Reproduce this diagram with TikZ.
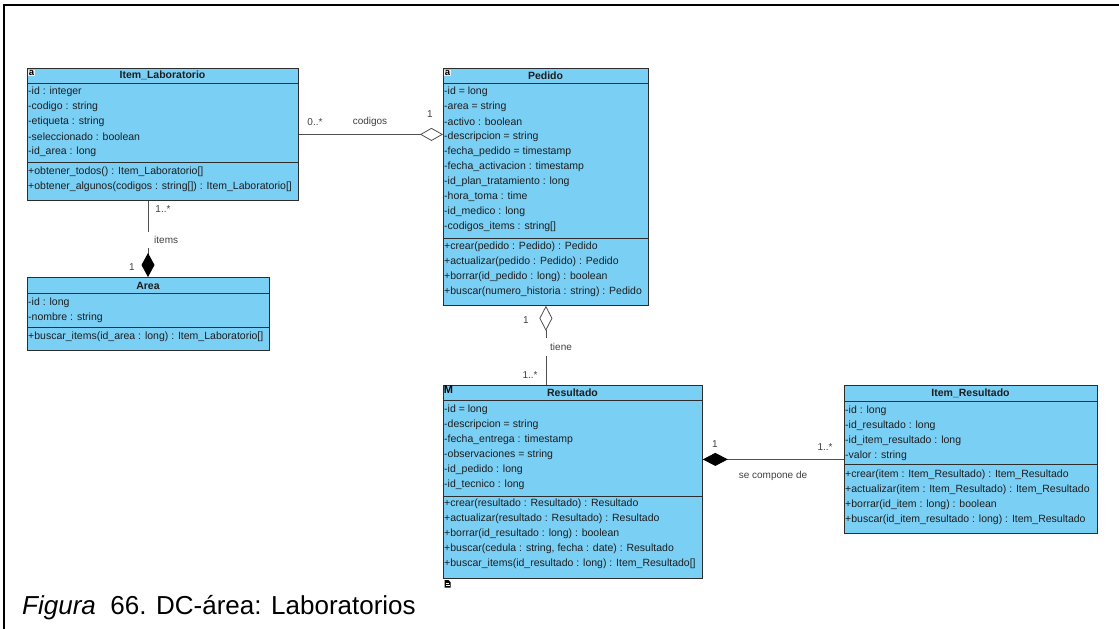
\documentclass[tikz,border=0pt]{standalone}
\usepackage{fontspec}
\setmainfont{Liberation Sans}
\usepackage{xcolor}
\usetikzlibrary{arrows.meta, positioning}
\definecolor{classfill}{RGB}{122,207,245}
\definecolor{classedge}{RGB}{45,45,45}
\definecolor{linkgray}{RGB}{80,80,80}
\definecolor{textdark}{RGB}{30,30,30}

\begin{document}
\begin{tikzpicture}[x=1pt, y=-1pt,
    classbox/.style={draw=classedge, fill=classfill, line width=0.8pt, anchor=north west, inner sep=0},
    classline/.style={draw=classedge, line width=0.8pt},
    classname/.style={font=\fontsize{10.5}{12}\selectfont\bfseries, text=textdark, inner sep=0},
    rowtext/.style={font=\fontsize{10.5}{12}\selectfont, text=textdark, anchor=west, inner sep=0},
    link/.style={draw=linkgray, line width=0.8pt},
    linklabel/.style={font=\fontsize{10}{12}\selectfont, text=textdark!85, inner sep=0},
    icon/.style={font=\fontsize{9.5}{10}\selectfont\bfseries, inner sep=0.5pt}]
  \useasboundingbox (0,0) rectangle (1119,629);
  % frame
  \draw[line width=2pt] (4,629) -- (4,5) -- (1119,5);

  % Item_Laboratorio
  \node[classbox, minimum width=271pt, minimum height=132pt] (itemlab) at (27,68) {};
  \node[classname] (itemlab-name) at (162.5,75.5) {Item\_Laboratorio};
  \node[icon, fill=gray!12] (itemlab-icon) at (31.5,73) {a};
  \draw[classline] (27,83) -- (298,83);
  \draw[classline] (27,162) -- (298,162);
  \foreach [count=\i] \t in {-id : integer, -codigo : string, -etiqueta : string,
      -seleccionado : boolean, -id\_area : long}
    \node[rowtext] (itemlab-a\i) at (28,{77+15*\i}) {\t};
  \foreach [count=\i] \t in {+obtener\_todos() : Item\_Laboratorio[],
      +obtener\_algunos(codigos : string[]) : Item\_Laboratorio[]}
    \node[rowtext] (itemlab-m\i) at (28,{157+15*\i}) {\t};

  % Pedido
  \node[classbox, minimum width=205pt, minimum height=237pt] (pedido) at (443,68) {};
  \node[classname] (pedido-name) at (545.5,75.5) {Pedido};
  \node[icon, fill=gray!12] (pedido-icon) at (447.5,73) {a};
  \draw[classline] (443,83) -- (648,83);
  \draw[classline] (443,238) -- (648,238);
  \foreach [count=\i] \t in {-id = long, -area = string, -activo : boolean,
      -descripcion = string, -fecha\_pedido = timestamp, -fecha\_activacion : timestamp,
      -id\_plan\_tratamiento : long, -hora\_toma : time, -id\_medico : long,
      -codigos\_items : string[]}
    \node[rowtext] (pedido-a\i) at (444,{77+15*\i}) {\t};
  \foreach [count=\i] \t in {+crear(pedido : Pedido) : Pedido,
      +actualizar(pedido : Pedido) : Pedido, +borrar(id\_pedido : long) : boolean,
      +buscar(numero\_historia : string) : Pedido}
    \node[rowtext] (pedido-m\i) at (444,{232+15*\i}) {\t};

  % Area
  \node[classbox, minimum width=242pt, minimum height=73pt] (area) at (27,277) {};
  \node[classname] (area-name) at (148,286) {Area};
  \draw[classline] (27,293) -- (269,293);
  \draw[classline] (27,327) -- (269,327);
  \foreach [count=\i] \t in {-id : long, -nombre : string}
    \node[rowtext] (area-a\i) at (28,{288+15*\i}) {\t};
  \node[rowtext] (area-m1) at (28,337) {+buscar\_items(id\_area : long) : Item\_Laboratorio[]};

  % Resultado
  \node[classbox, minimum width=259pt, minimum height=193pt] (resultado) at (443,385) {};
  \node[classname] (resultado-name) at (572.5,393) {Resultado};
  \node[icon, font=\fontsize{11}{12}\selectfont\bfseries, inner sep=0] (resultado-icon) at (448.5,390) {M};
  \draw[classline] (443,400) -- (702,400);
  \draw[classline] (443,496) -- (702,496);
  \foreach [count=\i] \t in {-id = long, -descripcion = string,
      -fecha\_entrega : timestamp, -observaciones = string, -id\_pedido : long,
      -id\_tecnico : long}
    \node[rowtext] (resultado-a\i) at (444,{395+15*\i}) {\t};
  \foreach [count=\i] \t in {+crear(resultado : Resultado) : Resultado,
      +actualizar(resultado : Resultado) : Resultado,
      +borrar(id\_resultado : long) : boolean,
      {+buscar(cedula : string, fecha : date) : Resultado},
      +buscar\_items(id\_resultado : long) : Item\_Resultado[]}
    \node[rowtext] (resultado-m\i) at (444,{489+15*\i}) {\t};
  % small note glyph under Resultado
  \fill[black] (444.5,580) -- (448.5,580) -- (450.5,582) -- (450.5,587.5) -- (444.5,587.5) -- cycle;
  \draw[white, line width=0.6pt] (445.5,583.5) -- (448.5,583.5) (445.5,585.5) -- (449.5,585.5);

  % Item_Resultado
  \node[classbox, minimum width=253pt, minimum height=148pt] (itemres) at (844,385) {};
  \node[classname] (itemres-name) at (970.5,393) {Item\_Resultado};
  \draw[classline] (844,401) -- (1097,401);
  \draw[classline] (844,464) -- (1097,464);
  \foreach [count=\i] \t in {-id : long, -id\_resultado : long,
      -id\_item\_resultado : long, -valor : string}
    \node[rowtext] (itemres-a\i) at (845,{396+15*\i}) {\t};
  \foreach [count=\i] \t in {+crear(item : Item\_Resultado) : Item\_Resultado,
      +actualizar(item : Item\_Resultado) : Item\_Resultado,
      +borrar(id\_item : long) : boolean,
      +buscar(id\_item\_resultado : long) : Item\_Resultado}
    \node[rowtext] (itemres-m\i) at (845,{460+15*\i}) {\t};

  % connectors
  \coordinate (itemsx) at (148,0);
  \draw[link, -{Diamond[open, length=23pt, width=13pt]}]
    (itemlab.east) -- (itemlab.east -| pedido.west);
  \draw[link, -{Diamond[length=24pt, width=13pt, color=black]}]
    (itemlab.south -| itemsx) -- (area.north -| itemsx);
  \draw[link, {Diamond[open, length=25pt, width=13pt]}-]
    (pedido.south) -- (resultado.north -| pedido.south);
  \draw[link, -{Diamond[length=25pt, width=13pt, color=black]}]
    (itemres.west) -- (itemres.west -| resultado.east);

  % connector labels
  \node[linklabel] (codigos-src) at (315,122) {0..*};
  \node[linklabel] (codigos-name) at (370,122) {codigos};
  \node[linklabel] (codigos-dst) at (430,114) {1};
  \node[linklabel] (items-src) at (163,209) {1..*};
  \node[linklabel, fill=white, anchor=west, inner xsep=9pt, inner ysep=4pt] (items-name) at (145,240) {items};
  \node[linklabel] (items-dst) at (132,267) {1};
  \node[linklabel] (tiene-src) at (526,320) {1};
  \node[linklabel, fill=white, anchor=west, inner xsep=6pt, inner ysep=5pt] (tiene-name) at (544,347) {tiene};
  \node[linklabel] (tiene-dst) at (530,375) {1..*};
  \node[linklabel] (compone-src) at (715,444) {1};
  \node[linklabel] (compone-name) at (773,476) {se compone de};
  \node[linklabel] (compone-dst) at (825,447) {1..*};

  % caption
  \node[anchor=base west, inner sep=0, font=\fontsize{26}{30}\selectfont] (caption) at (22,614)
    {\textit{Figura}\ \ 66. DC-área: Laboratorios};
\end{tikzpicture}
\end{document}
